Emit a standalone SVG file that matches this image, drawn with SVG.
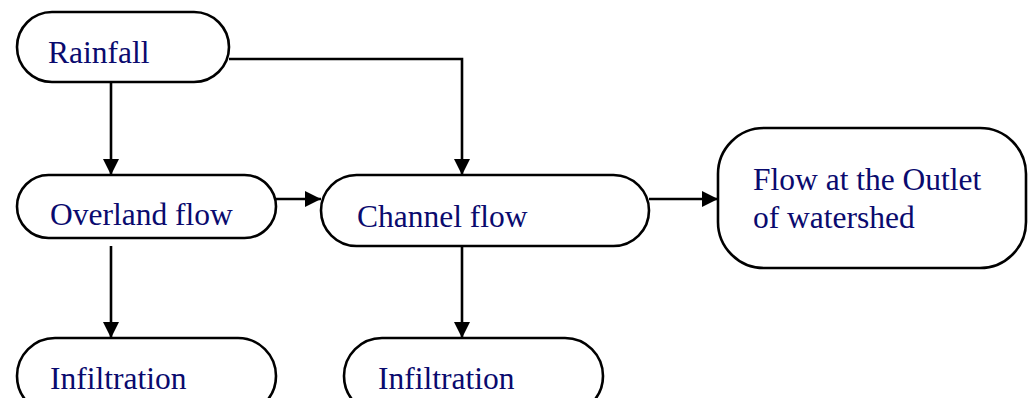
<svg xmlns="http://www.w3.org/2000/svg" width="1028" height="398" viewBox="0 0 1028 398">
  <style>
    .node { fill: #ffffff; stroke: #000000; stroke-width: 2.6; }
    .label { font-family: "Liberation Serif", "Times New Roman", serif; font-size: 31.5px; fill: #0a0a6e; }
    .edge { fill: none; stroke: #000000; stroke-width: 2.6; }
  </style>
  <defs>
    <marker id="arrow" markerUnits="userSpaceOnUse" markerWidth="17" markerHeight="17" refX="16" refY="8" orient="auto">
      <path d="M0,0 L16,8 L0,16 Z" fill="#000000"/>
    </marker>
  </defs>

  <rect width="1028" height="398" fill="#ffffff"/>

  <!-- connectors -->
  <g id="connectors">
    <path class="edge" d="M111,82 V175" marker-end="url(#arrow)"/>
    <path class="edge" d="M229,59 H462 V175" marker-end="url(#arrow)"/>
    <path class="edge" d="M276,199 H321" marker-end="url(#arrow)"/>
    <path class="edge" d="M649,199 H718" marker-end="url(#arrow)"/>
    <path class="edge" d="M111,246 V338" marker-end="url(#arrow)"/>
    <path class="edge" d="M462,246 V338" marker-end="url(#arrow)"/>
  </g>

  <!-- nodes -->
  <g id="rainfall">
    <rect class="node" x="17" y="12" width="212" height="70" rx="35" ry="35"/>
    <text class="label" x="48" y="63">Rainfall</text>
  </g>

  <g id="overland-flow">
    <rect class="node" x="17" y="175" width="259" height="63" rx="31.5" ry="31.5"/>
    <text class="label" x="50" y="225">Overland flow</text>
  </g>

  <g id="channel-flow">
    <rect class="node" x="321" y="175" width="328" height="71" rx="35.5" ry="35.5"/>
    <text class="label" x="357" y="227">Channel flow</text>
  </g>

  <g id="outlet">
    <rect class="node" x="718" y="128" width="308" height="140" rx="46" ry="46"/>
    <text class="label" x="753" y="190">Flow at the Outlet</text>
    <text class="label" x="753" y="228">of watershed</text>
  </g>

  <g id="infiltration-overland">
    <rect class="node" x="17" y="338" width="259" height="76" rx="38" ry="38"/>
    <text class="label" x="50" y="389">Infiltration</text>
  </g>

  <g id="infiltration-channel">
    <rect class="node" x="344" y="338" width="259" height="76" rx="38" ry="38"/>
    <text class="label" x="378" y="389">Infiltration</text>
  </g>
</svg>
